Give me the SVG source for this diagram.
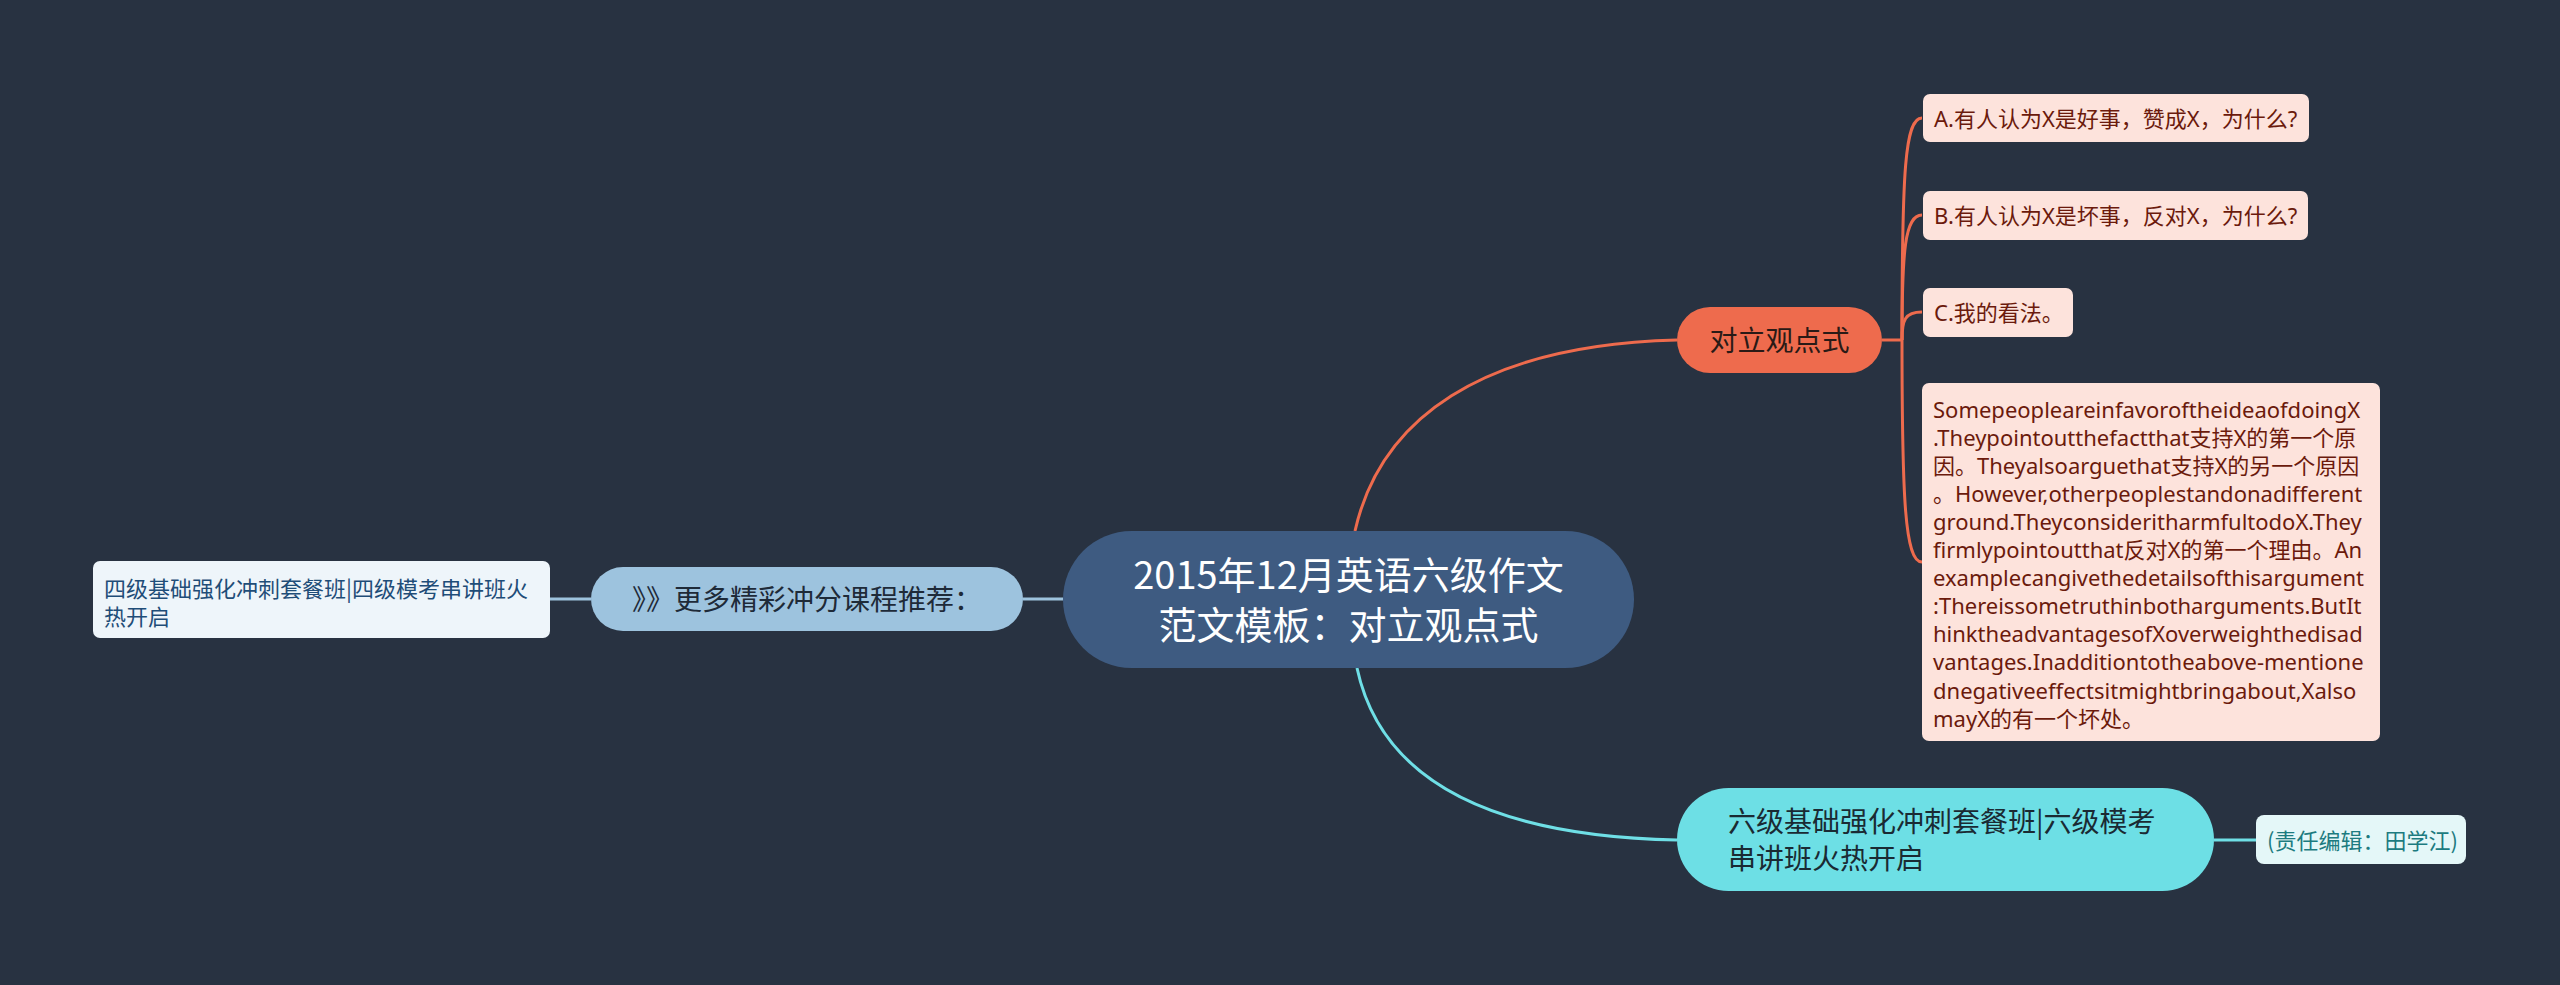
<svg xmlns="http://www.w3.org/2000/svg" width="2560" height="985" viewBox="0 0 2560 985">
<style>
text{font-family:"Noto Sans","Noto Sans CJK SC",sans-serif;}
.cjk{font-family:"Noto Sans CJK SC","Noto Sans",sans-serif;}
.ol{fill:none;stroke:#ee6b4d;stroke-width:3;}
.cl{fill:none;stroke:#6fdfe6;stroke-width:3;}
.bl{fill:none;stroke:#9dc3de;stroke-width:3;}
.peach{fill:#fde3dc;}
.pt{fill:#6b1a0c;font-size:22px;}
</style>
<rect width="2560" height="985" fill="#283241"/>
<g id="connectors">
<path class="ol" d="M1355,531 C1380,420 1480,345 1677,340"/>
<path class="cl" d="M1357,668 C1380,775 1480,836 1677,840"/>
<path class="bl" d="M1063,599 L1023,599"/>
<path class="bl" d="M591,599 L550,599"/>
<path class="ol" d="M1882,340 L1902,340"/>
<path class="ol" d="M1902,340 C1902,170 1905,118 1922,118"/>
<path class="ol" d="M1902,340 C1902,250 1905,215 1922,215"/>
<path class="ol" d="M1902,340 C1902,320 1905,312 1922,312"/>
<path class="ol" d="M1902,340 C1902,500 1905,562 1922,562"/>
<path class="cl" d="M2214,840 L2256,840"/>
</g>
<g id="root">
<rect x="1063" y="531" width="571" height="137" rx="68.5" fill="#3e5b81"/>
<text class="cjk" x="1348.5" y="589" font-size="38" fill="#ffffff" text-anchor="middle">2015年12月英语六级作文</text>
<text class="cjk" x="1348.5" y="639" font-size="38" fill="#ffffff" text-anchor="middle">范文模板：对立观点式</text>
</g>
<g id="n-duili">
<rect x="1677" y="307" width="205" height="66" rx="33" fill="#ee6b4d"/>
<text class="cjk" x="1779.5" y="350.5" font-size="28" fill="#2a1a16" text-anchor="middle">对立观点式</text>
</g>
<g id="n-a">
<rect class="peach" x="1923" y="94" width="386" height="48" rx="7"/>
<text class="pt" x="1934" y="126.5">A.有人认为X是好事，赞成X，为什么?</text>
</g>
<g id="n-b">
<rect class="peach" x="1923" y="191" width="385" height="49" rx="7"/>
<text class="pt" x="1934" y="223.5">B.有人认为X是坏事，反对X，为什么?</text>
</g>
<g id="n-c">
<rect class="peach" x="1923" y="288" width="150" height="49" rx="7"/>
<text class="pt" x="1934" y="320.5">C.我的看法。</text>
</g>
<g id="n-d">
<rect class="peach" x="1922" y="383" width="458" height="358" rx="7"/>
<text class="pt" x="1933" y="417.5">SomepeopleareinfavoroftheideaofdoingX<tspan x="1933" dy="28.1">.Theypointoutthefactthat支持X的第一个原</tspan><tspan x="1933" dy="28.1">因。Theyalsoarguethat支持X的另一个原因</tspan><tspan x="1933" dy="28.1">。However,otherpeoplestandonadifferent</tspan><tspan x="1933" dy="28.1">ground.TheyconsideritharmfultodoX.They</tspan><tspan x="1933" dy="28.1">firmlypointoutthat反对X的第一个理由。An</tspan><tspan x="1933" dy="28.1">examplecangivethedetailsofthisargument</tspan><tspan x="1933" dy="28.1">:Thereissometruthinbotharguments.ButIt</tspan><tspan x="1933" dy="28.1">hinktheadvantagesofXoverweighthedisad</tspan><tspan x="1933" dy="28.1">vantages.Inadditiontotheabove-mentione</tspan><tspan x="1933" dy="28.1">dnegativeeffectsitmightbringabout,Xalso</tspan><tspan x="1933" dy="28.1">mayX的有一个坏处。</tspan></text>
</g>
<g id="n-more">
<rect x="591" y="567" width="432" height="64" rx="32" fill="#9dc3de"/>
<text class="cjk" x="807" y="609.5" font-size="28" fill="#1e2a38" text-anchor="middle">》》更多精彩冲分课程推荐：</text>
</g>
<g id="n-cet4">
<rect x="93" y="561" width="457" height="77" rx="7" fill="#eef5fa"/>
<text class="cjk" x="104" y="597" font-size="22" fill="#1f4d78">四级基础强化冲刺套餐班|四级模考串讲班火<tspan x="104" dy="28">热开启</tspan></text>
</g>
<g id="n-cet6">
<rect x="1677" y="788" width="537" height="103" rx="51.5" fill="#6ddfe5"/>
<text class="cjk" x="1728" y="832" font-size="28" fill="#1a2a33">六级基础强化冲刺套餐班|六级模考<tspan x="1728" dy="37">串讲班火热开启</tspan></text>
</g>
<g id="n-editor">
<rect x="2256" y="815" width="210" height="49" rx="8" fill="#e4f7f8"/>
<text class="cjk" x="2267" y="848.5" font-size="22" fill="#1d7b80">(责任编辑：田学江)</text>
</g>
</svg>
